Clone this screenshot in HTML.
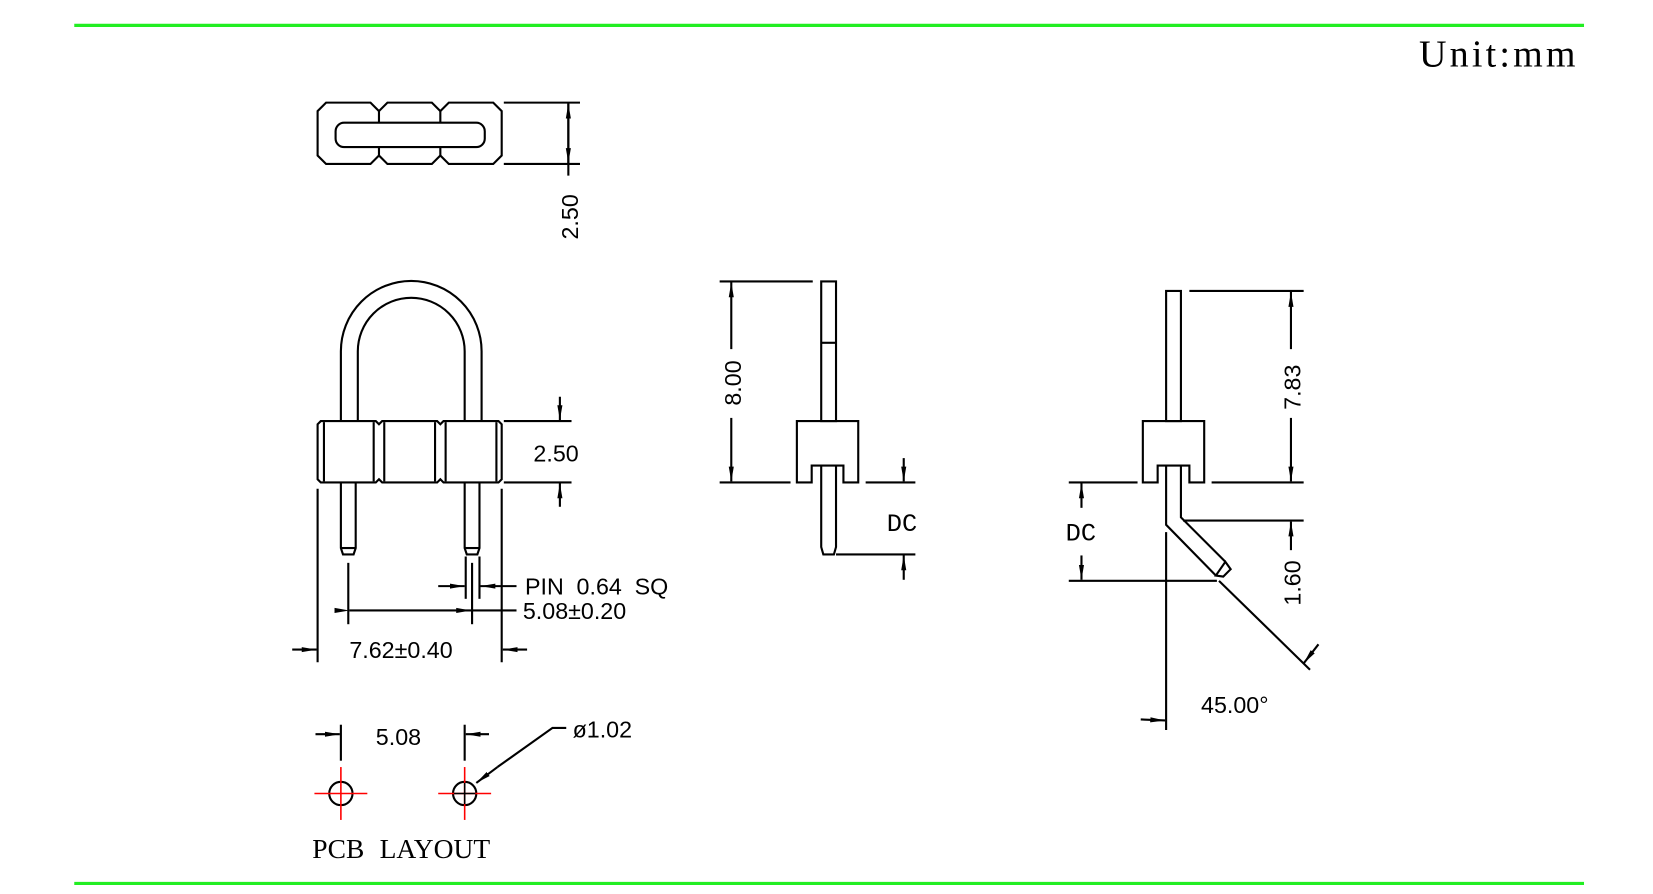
<!DOCTYPE html>
<html><head><meta charset="utf-8"><style>
html,body{margin:0;padding:0;background:#fff;}
svg{display:block;}
.d{font-family:"Liberation Sans","DejaVu Sans",sans-serif;font-size:22px;fill:#000;}
.m{font-family:"Liberation Mono","DejaVu Sans Mono",monospace;font-size:24px;fill:#000;}
</style></head><body>
<svg width="1653" height="894" viewBox="0 0 1562 845" xmlns="http://www.w3.org/2000/svg">
<defs>
<marker id="a" viewBox="0 0 14 6" refX="14" refY="3" markerWidth="14" markerHeight="6" orient="auto" markerUnits="userSpaceOnUse"><path d="M0,0.6 L14,3 L0,5.4 Z" fill="#000"/></marker>
</defs>
<line x1="70" y1="24" x2="1497" y2="24" stroke="#22ee22" stroke-width="3"/>
<line x1="70" y1="835" x2="1497" y2="835" stroke="#22ee22" stroke-width="3"/>
<text x="1492" y="63" text-anchor="end" style="font-family:'Liberation Serif',serif;font-size:36px;letter-spacing:3px">Unit:mm</text>

<g fill="none" stroke="#000" stroke-width="2">
<path d="M308,97 H350 L358,105 L366,97 H408 L416,105 L424,97 H466 L474,105 V147 L466,155 H424 L416,147 L408,155 H366 L358,147 L350,155 H308 L300,147 V105 Z"/>
<line x1="358" y1="105" x2="358" y2="116"/><line x1="416" y1="105" x2="416" y2="116"/>
<line x1="358" y1="139" x2="358" y2="147"/><line x1="416" y1="139" x2="416" y2="147"/>
<rect x="317" y="116" width="141" height="23" rx="8" fill="#fff"/>
<line x1="476" y1="97" x2="548" y2="97"/><line x1="476" y1="155" x2="548" y2="155"/>
<line x1="537" y1="155" x2="537" y2="98" marker-end="url(#a)"/>
<line x1="537" y1="97" x2="537" y2="154" marker-end="url(#a)"/>
<line x1="537" y1="155" x2="537" y2="166"/>

<path d="M322,398 V332 A66.5,66.5 0 0 1 455,332 V398"/>
<path d="M338,398 V332 A50.5,50.5 0 0 1 439,332 V398"/>
<path d="M303,398 H355 L358,401 L361,398 H413 L416,401 L419,398 H471 L474,401 V453 L471,456 H419 L416,453 L413,456 H361 L358,453 L355,456 H303 L300,453 V401 Z"/>
<line x1="306" y1="399" x2="306" y2="455"/><line x1="353" y1="399" x2="353" y2="455"/>
<line x1="363" y1="399" x2="363" y2="455"/><line x1="411" y1="399" x2="411" y2="455"/>
<line x1="421" y1="399" x2="421" y2="455"/><line x1="469" y1="399" x2="469" y2="455"/>
<path d="M322,456 V518 L324,524 H334 L336,518 V456"/><line x1="322" y1="518" x2="336" y2="518"/>
<path d="M439,456 V518 L441,524 H451 L453,518 V456"/><line x1="439" y1="518" x2="453" y2="518"/>
<line x1="476" y1="398" x2="540" y2="398"/><line x1="476" y1="456" x2="540" y2="456"/>
<line x1="529" y1="375" x2="529" y2="397" marker-end="url(#a)"/>
<line x1="529" y1="479" x2="529" y2="457" marker-end="url(#a)"/>
<line x1="300" y1="462" x2="300" y2="626"/><line x1="474" y1="462" x2="474" y2="626"/>
<line x1="276" y1="614" x2="299" y2="614" marker-end="url(#a)"/>
<line x1="498" y1="614" x2="475" y2="614" marker-end="url(#a)"/>
<line x1="329" y1="532" x2="329" y2="590"/><line x1="446" y1="532" x2="446" y2="590"/>
<line x1="330" y1="577" x2="445" y2="577" marker-start="url(#a)" marker-end="url(#a)"/>
<line x1="446" y1="577" x2="488" y2="577"/>
<line x1="440" y1="526" x2="440" y2="566"/><line x1="453" y1="526" x2="453" y2="566"/>
<line x1="414" y1="554" x2="439" y2="554" marker-end="url(#a)"/>
<line x1="488" y1="554" x2="454" y2="554" marker-end="url(#a)"/>

<line x1="322" y1="685" x2="322" y2="719"/><line x1="439" y1="685" x2="439" y2="719"/>
<line x1="298" y1="694" x2="321" y2="694" marker-end="url(#a)"/>
<line x1="462" y1="694" x2="440" y2="694" marker-end="url(#a)"/>
<circle cx="322" cy="750" r="11"/><circle cx="439" cy="750" r="11"/>
<path d="M535,688 H522 L470,725" /><line x1="470" y1="725" x2="450" y2="740" marker-end="url(#a)"/>

<rect x="776" y="266" width="14" height="132"/><line x1="776" y1="324" x2="790" y2="324"/>
<path d="M753,398 H811 V456 H797 V440 H767 V456 H753 Z"/>
<path d="M776,440 V517 L778,524 H788 L790,517 V440"/>
<line x1="680" y1="266" x2="768" y2="266"/><line x1="680" y1="456" x2="747" y2="456"/>
<line x1="691" y1="330" x2="691" y2="267" marker-end="url(#a)"/>
<line x1="691" y1="395" x2="691" y2="455" marker-end="url(#a)"/>
<line x1="818" y1="456" x2="865" y2="456"/><line x1="790" y1="524" x2="865" y2="524"/>
<line x1="854" y1="433" x2="854" y2="455" marker-end="url(#a)"/>
<line x1="854" y1="548" x2="854" y2="525" marker-end="url(#a)"/>

<rect x="1102" y="275" width="14" height="123"/>
<path d="M1080,398 H1138 V456 H1124 V440 H1094 V456 H1080 Z"/>
<path d="M1102,440 V496 L1149,544 M1116,440 V489 L1158,531"/>
<path d="M1149,544 L1156,545 L1163,538 L1158,531 Z"/>
<line x1="1102" y1="503" x2="1102" y2="690"/>
<line x1="1152" y1="549" x2="1238" y2="633"/>
<line x1="1078" y1="680" x2="1101" y2="681" marker-end="url(#a)"/>
<line x1="1246" y1="609" x2="1232" y2="627" marker-end="url(#a)"/>
<line x1="1124" y1="275" x2="1232" y2="275"/><line x1="1145" y1="456" x2="1232" y2="456"/>
<line x1="1220" y1="330" x2="1220" y2="276" marker-end="url(#a)"/>
<line x1="1220" y1="395" x2="1220" y2="455" marker-end="url(#a)"/>
<line x1="1118" y1="492" x2="1232" y2="492"/>
<line x1="1220" y1="520" x2="1220" y2="493" marker-end="url(#a)"/>
<line x1="1010" y1="456" x2="1075" y2="456"/><line x1="1010" y1="549" x2="1150" y2="549"/>
<line x1="1022" y1="480" x2="1022" y2="457" marker-end="url(#a)"/>
<line x1="1022" y1="525" x2="1022" y2="548" marker-end="url(#a)"/>
</g>
<g stroke="#ff0000" stroke-width="1.5">
<line x1="297" y1="750" x2="347" y2="750"/><line x1="322" y1="725" x2="322" y2="775"/>
<line x1="414" y1="750" x2="464" y2="750"/><line x1="439" y1="725" x2="439" y2="775"/>
</g>
<g stroke="#000" stroke-width="1.5"><line x1="429" y1="750" x2="449" y2="750"/><line x1="439" y1="740" x2="439" y2="760"/></g>

<text class="d" transform="translate(546,205) rotate(-90)" text-anchor="middle">2.50</text>
<text class="d" x="504" y="436">2.50</text>
<text class="d" x="330" y="622">7.62±0.40</text>
<text class="d" x="494" y="585">5.08±0.20</text>
<text class="d" x="496" y="562" style="word-spacing:6px">PIN 0.64 SQ</text>
<text class="d" x="355" y="704">5.08</text>
<text class="d" x="541" y="697">ø1.02</text>
<text x="295" y="811" style="font-family:'Liberation Serif',serif;font-size:26px;word-spacing:8px">PCB LAYOUT</text>
<text class="d" transform="translate(700,362) rotate(-90)" text-anchor="middle">8.00</text>
<text class="m" x="838" y="502">DC</text>
<text class="d" transform="translate(1229,366) rotate(-90)" text-anchor="middle">7.83</text>
<text class="d" transform="translate(1229,551) rotate(-90)" text-anchor="middle">1.60</text>
<text class="m" x="1007" y="511">DC</text>
<text class="d" x="1135" y="674">45.00°</text>
</svg>
</body></html>
